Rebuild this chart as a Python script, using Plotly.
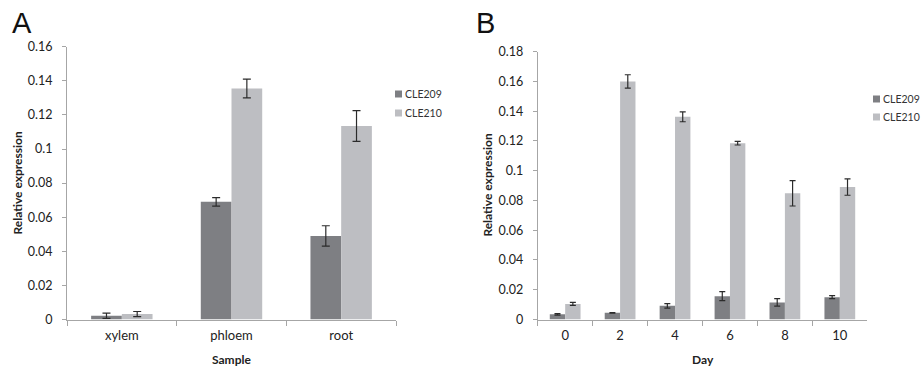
import plotly.graph_objects as go

# ---- Data ----
samples = ["xylem", "phloem", "root"]
a_cle209 = [0.0022, 0.0690, 0.0490]
a_cle209_err = [0.0015, 0.0025, 0.0060]
a_cle210 = [0.0032, 0.1355, 0.1135]
a_cle210_err = [0.0015, 0.0055, 0.0090]

days = ["0", "2", "4", "6", "8", "10"]
b_cle209 = [0.0035, 0.0045, 0.0092, 0.0157, 0.0115, 0.0150]
b_cle209_err = [0.0005, 0.0002, 0.0015, 0.0030, 0.0025, 0.0010]
b_cle210 = [0.0105, 0.1600, 0.1362, 0.1185, 0.0848, 0.0890]
b_cle210_err = [0.0010, 0.0045, 0.0033, 0.0012, 0.0085, 0.0055]

series_names = ["CLE209", "CLE210"]
x_titles = ["Sample", "Day"]
y_title = "Relative expression"
dark = "#7e7f83"
light = "#bdbec2"
err_col = "#2b2b2b"
axis_col = "#a6a6a6"
font_main = "Lato"

W, H = 921, 367
fig = go.Figure()

def add_bars(x, y, e, name, color, xa, ya, cap):
    fig.add_trace(go.Bar(
        x=x, y=y, name=name, marker=dict(color=color, line=dict(width=0)),
        error_y=dict(type="data", array=e, color=err_col, thickness=1.2, width=cap),
        xaxis=xa, yaxis=ya, showlegend=False, hoverinfo="skip",
    ))

add_bars(samples, a_cle209, a_cle209_err, series_names[0], dark, "x", "y", 4)
add_bars(samples, a_cle210, a_cle210_err, series_names[1], light, "x", "y", 4)
add_bars(days, b_cle209, b_cle209_err, series_names[0], dark, "x2", "y2", 3)
add_bars(days, b_cle210, b_cle210_err, series_names[1], light, "x2", "y2", 3)

def px_x(v):
    return v / W

def px_y(v):
    return 1 - v / H

xaxis_common = dict(
    type="category", showline=True, linecolor=axis_col, linewidth=1,
    ticks="outside", tickson="boundaries", ticklen=5, tickcolor=axis_col,
    showgrid=False, zeroline=False, automargin=False,
    tickfont=dict(family=font_main, size=13, color="#222"),
    ticklabelstandoff=4,
)
yaxis_common = dict(
    showline=True, linecolor=axis_col, linewidth=1,
    ticks="outside", ticklen=4, tickcolor=axis_col,
    showgrid=False, zeroline=False, dtick=0.02, automargin=False,
    tickfont=dict(family=font_main, size=12.5, color="#222"),
    ticklabelstandoff=7,
)
title_font = dict(family=font_main, size=12, color="#222", weight="bold")

# legend drawn as small squares + labels (Excel style)
shapes = []
annotations = []
legend_specs = [(395, [94, 113]), (873, [99, 117])]
for sx, ys in legend_specs:
    for nm, col, yc in zip(series_names, [dark, light], ys):
        shapes.append(dict(type="rect", xref="paper", yref="paper",
                           x0=px_x(sx), x1=px_x(sx + 7),
                           y0=px_y(yc + 3.5), y1=px_y(yc - 3.5),
                           fillcolor=col, line=dict(width=0)))
        annotations.append(dict(text=nm, x=px_x(sx + 8), y=px_y(yc),
                                xref="paper", yref="paper", xanchor="left",
                                yanchor="middle", showarrow=False,
                                font=dict(family=font_main, size=10.5, color="#333")))

# axis titles
for xt, cx in zip(x_titles, [231.5, 702.5]):
    annotations.append(dict(text=xt, x=px_x(cx), y=px_y(359), xref="paper", yref="paper",
                            xanchor="center", yanchor="middle", showarrow=False,
                            font=title_font))
for cx, cy in [(17, 183.5), (488, 185.6)]:
    annotations.append(dict(text=y_title, x=px_x(cx), y=px_y(cy), xref="paper", yref="paper",
                            xanchor="center", yanchor="middle", showarrow=False,
                            textangle=-90, font=title_font))

annotations += [
    dict(text="A", x=px_x(10), y=px_y(5), xref="paper", yref="paper",
         xanchor="left", yanchor="top", showarrow=False,
         font=dict(family="Liberation Sans", size=29, color="#111")),
    dict(text="B", x=px_x(474), y=px_y(5), xref="paper", yref="paper",
         xanchor="left", yanchor="top", showarrow=False,
         font=dict(family="Liberation Sans", size=29, color="#111")),
]

fig.update_layout(
    width=W, height=H,
    margin=dict(l=0, r=0, t=0, b=0),
    paper_bgcolor="white", plot_bgcolor="white",
    barmode="group", bargap=0.44, bargroupgap=0,
    showlegend=False,
    xaxis=dict(domain=[px_x(67), px_x(396)], anchor="y", **xaxis_common),
    yaxis=dict(domain=[px_y(319.5), px_y(46.7)], anchor="x", range=[0, 0.16], **yaxis_common),
    xaxis2=dict(domain=[px_x(537.7), px_x(867.3)], anchor="y2", **xaxis_common),
    yaxis2=dict(domain=[px_y(319.5), px_y(51.7)], anchor="x2", range=[0, 0.18], **yaxis_common),
    shapes=shapes,
    annotations=annotations,
)

fig.write_html("out.html", config={"displayModeBar": False},
               post_script="document.body.style.margin='0px';")
